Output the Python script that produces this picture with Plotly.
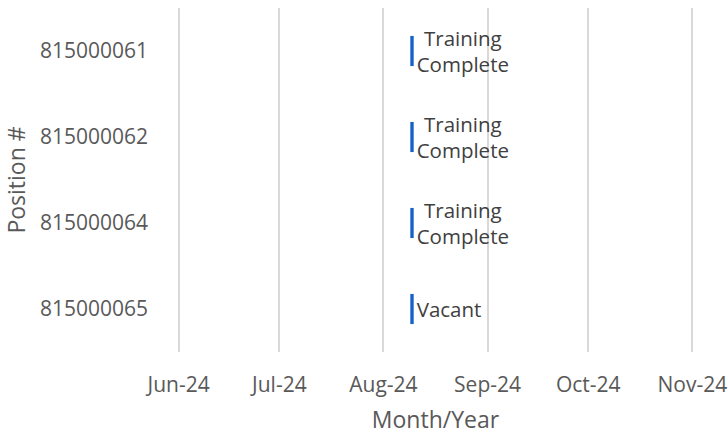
import plotly.graph_objects as go

positions = ["815000061", "815000062", "815000064", "815000065"]
start_dates = ["2024-08-09", "2024-08-09", "2024-08-09", "2024-08-09"]
duration_days = [1, 1, 1, 1]
status_labels = ["Training<br>Complete", "Training<br>Complete", "Training<br>Complete", "Vacant"]
x_ticks = ["2024-06-01", "2024-07-01", "2024-08-01", "2024-09-01", "2024-10-01", "2024-11-01"]
x_tick_labels = ["Jun-24", "Jul-24", "Aug-24", "Sep-24", "Oct-24", "Nov-24"]

FONT = "Open Sans"
GRAY = "#595959"

fig = go.Figure(go.Bar(
    orientation="h",
    y=positions,
    base=start_dates,
    x=[d * 86400000 for d in duration_days],
    text=status_labels,
    textposition="outside",
    constraintext="none",
    cliponaxis=False,
    textfont=dict(family=FONT, size=20.5, color="#404040"),
    marker=dict(color="#1462C6", line=dict(width=0)),
    width=0.35,
))

fig.update_layout(
    width=728, height=435,
    margin=dict(l=177, r=34, t=8, b=83, autoexpand=False),
    paper_bgcolor="white", plot_bgcolor="white",
    showlegend=False,
    font=dict(family=FONT, color=GRAY, size=21),
)
fig.update_xaxes(
    type="date",
    range=["2024-05-31 12:00", "2024-11-01 12:00"],
    tickvals=x_ticks, ticktext=x_tick_labels,
    showgrid=True, gridcolor="#d9d9d9", gridwidth=1.5,
    zeroline=False, showline=False, automargin=False,
    ticklabelstandoff=18,
    tickfont=dict(size=21, color=GRAY),
    title=dict(text="Month/Year", font=dict(size=23, color=GRAY), standoff=16),
)
fig.update_yaxes(
    type="category",
    categoryorder="array", categoryarray=positions,
    autorange="reversed",
    showgrid=False, zeroline=False, showline=False, automargin=False,
    ticklabelstandoff=28,
    tickfont=dict(size=21, color=GRAY),
    title=dict(text="Position #", font=dict(size=23, color=GRAY), standoff=9),
)

fig.write_html("out.html", config={"displayModeBar": False},
               post_script="document.body.style.margin='0';")
